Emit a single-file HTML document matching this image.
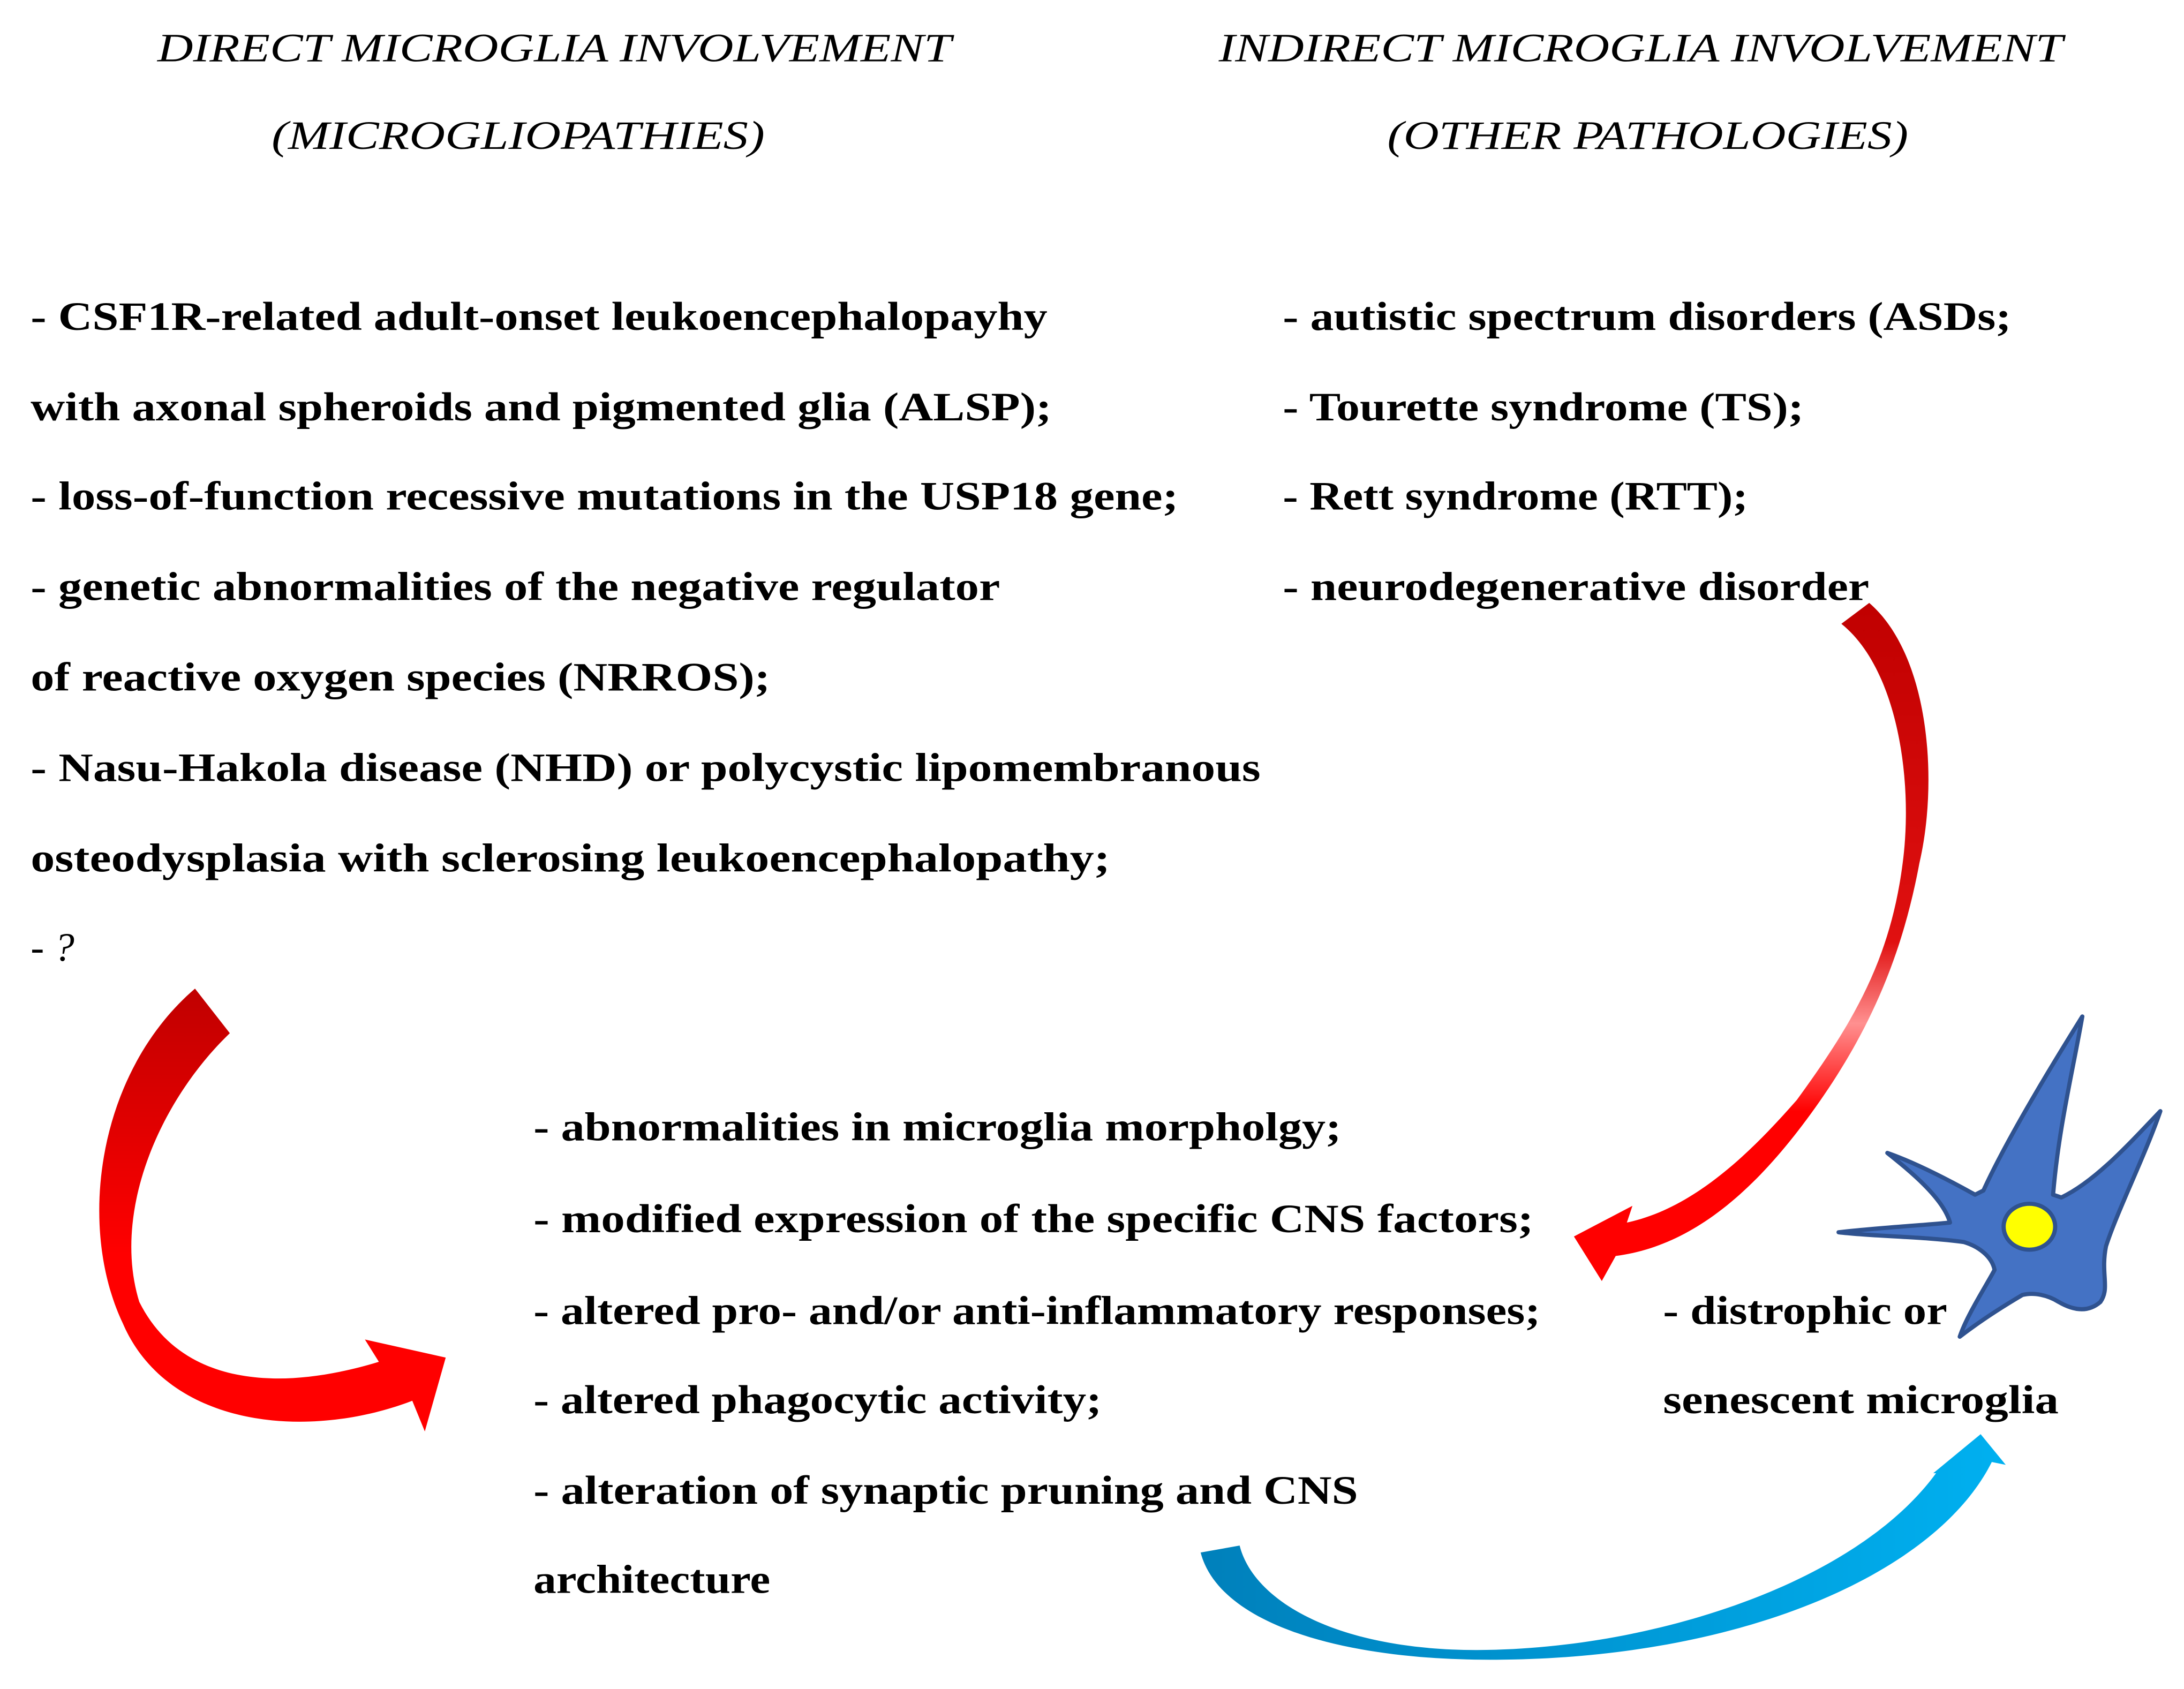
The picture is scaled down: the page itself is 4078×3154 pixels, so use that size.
<!DOCTYPE html>
<html><head><meta charset="utf-8"><style>
html,body{margin:0;padding:0;background:#fff;}
svg{display:block;}
text{font-family:"Liberation Serif",serif;font-weight:bold;font-size:29px;fill:#000;}
.h{font-style:italic;font-weight:normal;}
</style></head><body>
<svg width="4078" height="3154" viewBox="0 0 1568 1213" preserveAspectRatio="none" xmlns="http://www.w3.org/2000/svg">
<defs>
<linearGradient id="lr" x1="0" y1="0" x2="0" y2="1"><stop offset="0" stop-color="#c00000"/><stop offset="0.6" stop-color="#ff0000"/><stop offset="1" stop-color="#ff0000"/></linearGradient>
<linearGradient id="rr" x1="0" y1="0" x2="0" y2="1"><stop offset="0" stop-color="#c00000"/><stop offset="0.5" stop-color="#e01010"/><stop offset="0.62" stop-color="#ff9090"/><stop offset="0.75" stop-color="#ff0000"/><stop offset="1" stop-color="#ff0000"/></linearGradient>
<linearGradient id="bb" x1="0" y1="0" x2="1" y2="0"><stop offset="0" stop-color="#0080bb"/><stop offset="1" stop-color="#00b0f0"/></linearGradient>
</defs>
<text class="h" x="113" y="44" textLength="570" lengthAdjust="spacingAndGlyphs">DIRECT MICROGLIA INVOLVEMENT</text>
<text class="h" x="195" y="107" textLength="354" lengthAdjust="spacingAndGlyphs">(MICROGLIOPATHIES)</text>
<text class="h" x="875" y="44" textLength="606" lengthAdjust="spacingAndGlyphs">INDIRECT MICROGLIA INVOLVEMENT</text>
<text class="h" x="996" y="107" textLength="374" lengthAdjust="spacingAndGlyphs">(OTHER PATHOLOGIES)</text>

<text x="22" y="237" textLength="730" lengthAdjust="spacingAndGlyphs">- CSF1R-related adult-onset leukoencephalopayhy</text>
<text x="22" y="302" textLength="733" lengthAdjust="spacingAndGlyphs">with axonal spheroids and pigmented glia (ALSP);</text>
<text x="22" y="366" textLength="824" lengthAdjust="spacingAndGlyphs">- loss-of-function recessive mutations in the USP18 gene;</text>
<text x="22" y="431" textLength="696" lengthAdjust="spacingAndGlyphs">- genetic abnormalities of the negative regulator</text>
<text x="22" y="496" textLength="531" lengthAdjust="spacingAndGlyphs">of reactive oxygen species (NRROS);</text>
<text x="22" y="561" textLength="883" lengthAdjust="spacingAndGlyphs">- Nasu-Hakola disease (NHD) or polycystic lipomembranous</text>
<text x="22" y="626" textLength="775" lengthAdjust="spacingAndGlyphs">osteodysplasia with sclerosing leukoencephalopathy;</text>
<text x="22" y="690" class="h">- ?</text>

<text x="921" y="237" textLength="523" lengthAdjust="spacingAndGlyphs">- autistic spectrum disorders (ASDs;</text>
<text x="921" y="302" textLength="374" lengthAdjust="spacingAndGlyphs">- Tourette syndrome (TS);</text>
<text x="921" y="366" textLength="334" lengthAdjust="spacingAndGlyphs">- Rett syndrome (RTT);</text>
<text x="921" y="431" textLength="421" lengthAdjust="spacingAndGlyphs">- neurodegenerative disorder</text>

<text x="383" y="819" textLength="580" lengthAdjust="spacingAndGlyphs">- abnormalities in microglia morpholgy;</text>
<text x="383" y="885" textLength="718" lengthAdjust="spacingAndGlyphs">- modified expression of the specific CNS factors;</text>
<text x="383" y="951" textLength="723" lengthAdjust="spacingAndGlyphs">- altered pro- and/or anti-inflammatory responses;</text>
<text x="383" y="1015" textLength="408" lengthAdjust="spacingAndGlyphs">- altered phagocytic activity;</text>
<text x="383" y="1080" textLength="592" lengthAdjust="spacingAndGlyphs">- alteration of synaptic pruning and CNS</text>
<text x="383" y="1144" textLength="170" lengthAdjust="spacingAndGlyphs">architecture</text>
<text x="1194" y="951" textLength="204" lengthAdjust="spacingAndGlyphs">- distrophic or</text>
<text x="1194" y="1015" textLength="284" lengthAdjust="spacingAndGlyphs">senescent microglia</text>

<!-- left red arrow -->
<path fill="url(#lr)" d="M140,710 L165,742 C115,790 80,870 100,935 C130,995 200,1000 272,978 L262,962 L320,975 L305,1028 L296,1006 C220,1035 120,1025 88,950 C55,880 70,770 140,710 Z"/>
<!-- right red arrow -->
<path fill="url(#rr)" d="M1322,448 L1342,433 C1385,470 1392,560 1378,620 C1365,690 1340,745 1300,800 C1260,855 1215,895 1160,902 L1150,920 L1130,888 L1172,866 L1168,878 C1215,868 1255,830 1290,790 C1330,735 1357,690 1366,620 C1374,560 1362,480 1322,448 Z"/>
<!-- blue arrow -->
<path fill="url(#bb)" d="M862,1115 L890,1110 C900,1150 960,1185 1060,1185 C1180,1185 1330,1140 1390,1058 L1388,1058 L1422,1030 L1440,1052 L1430,1050 C1390,1130 1250,1192 1070,1192 C960,1192 875,1165 862,1115 Z"/>
<!-- microglia cell -->
<path fill="#4472c4" stroke="#2f528f" stroke-width="3" stroke-linejoin="round" d="M1495,730 C1488,770 1478,810 1474,858 L1480,860 C1505,848 1530,820 1551,798 C1540,830 1520,870 1512,895 C1508,915 1515,925 1508,935 C1500,942 1490,942 1478,935 C1470,930 1460,928 1452,930 C1435,940 1420,950 1407,960 C1412,945 1425,925 1432,912 C1430,902 1420,895 1410,892 C1380,888 1345,888 1320,885 C1345,882 1380,880 1400,878 C1395,860 1370,840 1355,828 C1375,835 1400,848 1418,858 L1424,855 C1440,820 1470,770 1495,730 Z"/>
<ellipse cx="1457" cy="881" rx="20" ry="18" fill="#2f528f"/>
<ellipse cx="1457" cy="881" rx="17" ry="15" fill="#ffff00"/>
</svg>
</body></html>
